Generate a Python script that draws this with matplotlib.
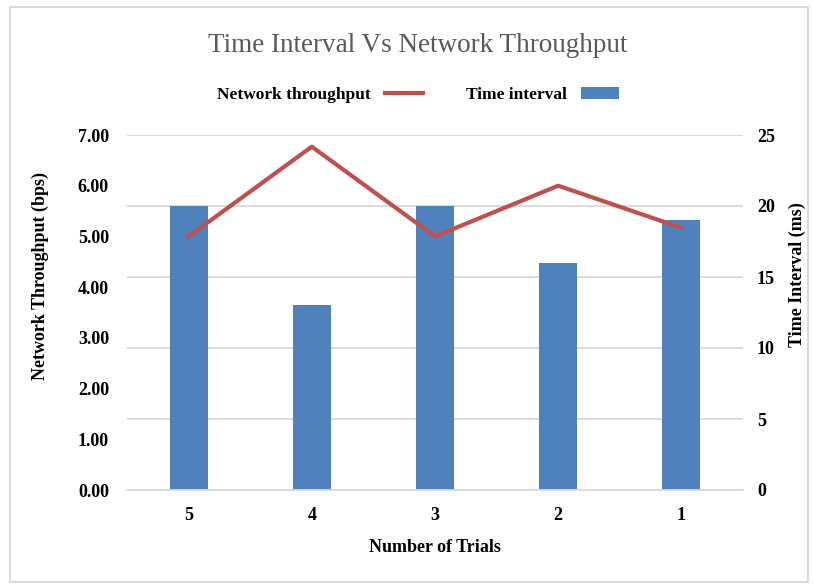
import matplotlib.pyplot as plt
from matplotlib.lines import Line2D
from matplotlib.patches import Patch, Rectangle

# trial data
trials = [1, 2, 3, 4, 5]
time_interval = [19, 16, 20, 13, 20]          # ms
throughput = [5.17, 6.0, 5.0, 6.77, 5.0]      # bps

bar_color = '#4F81BD'
line_color = '#C0504D'
grid_color = '#D9D9D9'

plt.rcParams['font.family'] = ['Liberation Serif', 'DejaVu Serif']
W, H = 814, 588
fig = plt.figure(figsize=(W / 100, H / 100), dpi=100)

# outer chart frame
fig.patches.append(Rectangle((10 / W, 1 - 582 / H), 798 / W, 575 / H,
                             transform=fig.transFigure, fill=False,
                             edgecolor=grid_color, linewidth=1.5))

ax = fig.add_axes([127 / W, 1 - 490 / H, 616 / W, 355 / H])
ax2 = ax.twinx()

# time interval bars on the right-hand scale (with the grid)
ax.bar(trials, time_interval, width=0.31, color=bar_color, zorder=2)
ax.set_ylim(0, 25)
ax.set_yticks(range(0, 26, 5))
ax.grid(axis='y', color=grid_color, linewidth=1.3, zorder=0)
ax.set_axisbelow(True)
ax.set_xlim(0.5, 5.5)
ax.invert_xaxis()
ax.set_xticks(trials)

# network throughput line on the left-hand scale
ax2.plot(trials, throughput, color=line_color, linewidth=3, zorder=3)
ax2.set_ylim(0, 7)
ax2.set_yticks(range(0, 8))
ax2.set_yticklabels([f'{v:.2f}' for v in range(0, 8)])

ax.yaxis.tick_right()
ax2.yaxis.tick_left()

for a in (ax, ax2):
    for s in a.spines.values():
        s.set_visible(False)
    a.tick_params(length=0, labelsize=13)
    for lab in a.get_xticklabels() + a.get_yticklabels():
        lab.set_fontweight('bold')
ax.spines['bottom'].set_visible(True)
ax.spines['bottom'].set_color(grid_color)
ax.spines['bottom'].set_linewidth(1.3)
ax.tick_params(axis='y', pad=10)
ax.tick_params(axis='x', pad=12)
ax2.tick_params(axis='y', pad=13)

fig.text(435 / W, 1 - 547 / H, 'Number of Trials', ha='center', va='center',
         fontsize=13, fontweight='bold')
fig.text(40 / W, 1 - 276 / H, 'Network Throughput (bps)', rotation=90,
         ha='center', va='center', fontsize=13, fontweight='bold')
fig.text(797 / W, 1 - 275 / H, 'Time Interval (ms)', rotation=90,
         ha='center', va='center', fontsize=13, fontweight='bold')

fig.text(418 / W, 1 - 45 / H, 'Time Interval Vs Network Throughput',
         ha='center', va='center', fontsize=19.5, color='#595959')

handles = [Line2D([], [], color=line_color, linewidth=3),
           Patch(facecolor=bar_color)]
fig.legend(handles, ['Network throughput', 'Time interval'],
           loc='center', bbox_to_anchor=(418 / W, 1 - 95 / H), ncol=2,
           frameon=False, markerfirst=False, handlelength=2.2,
           columnspacing=2.5, prop={'weight': 'bold', 'size': 12.5})

fig.savefig('out.png', dpi=100)
